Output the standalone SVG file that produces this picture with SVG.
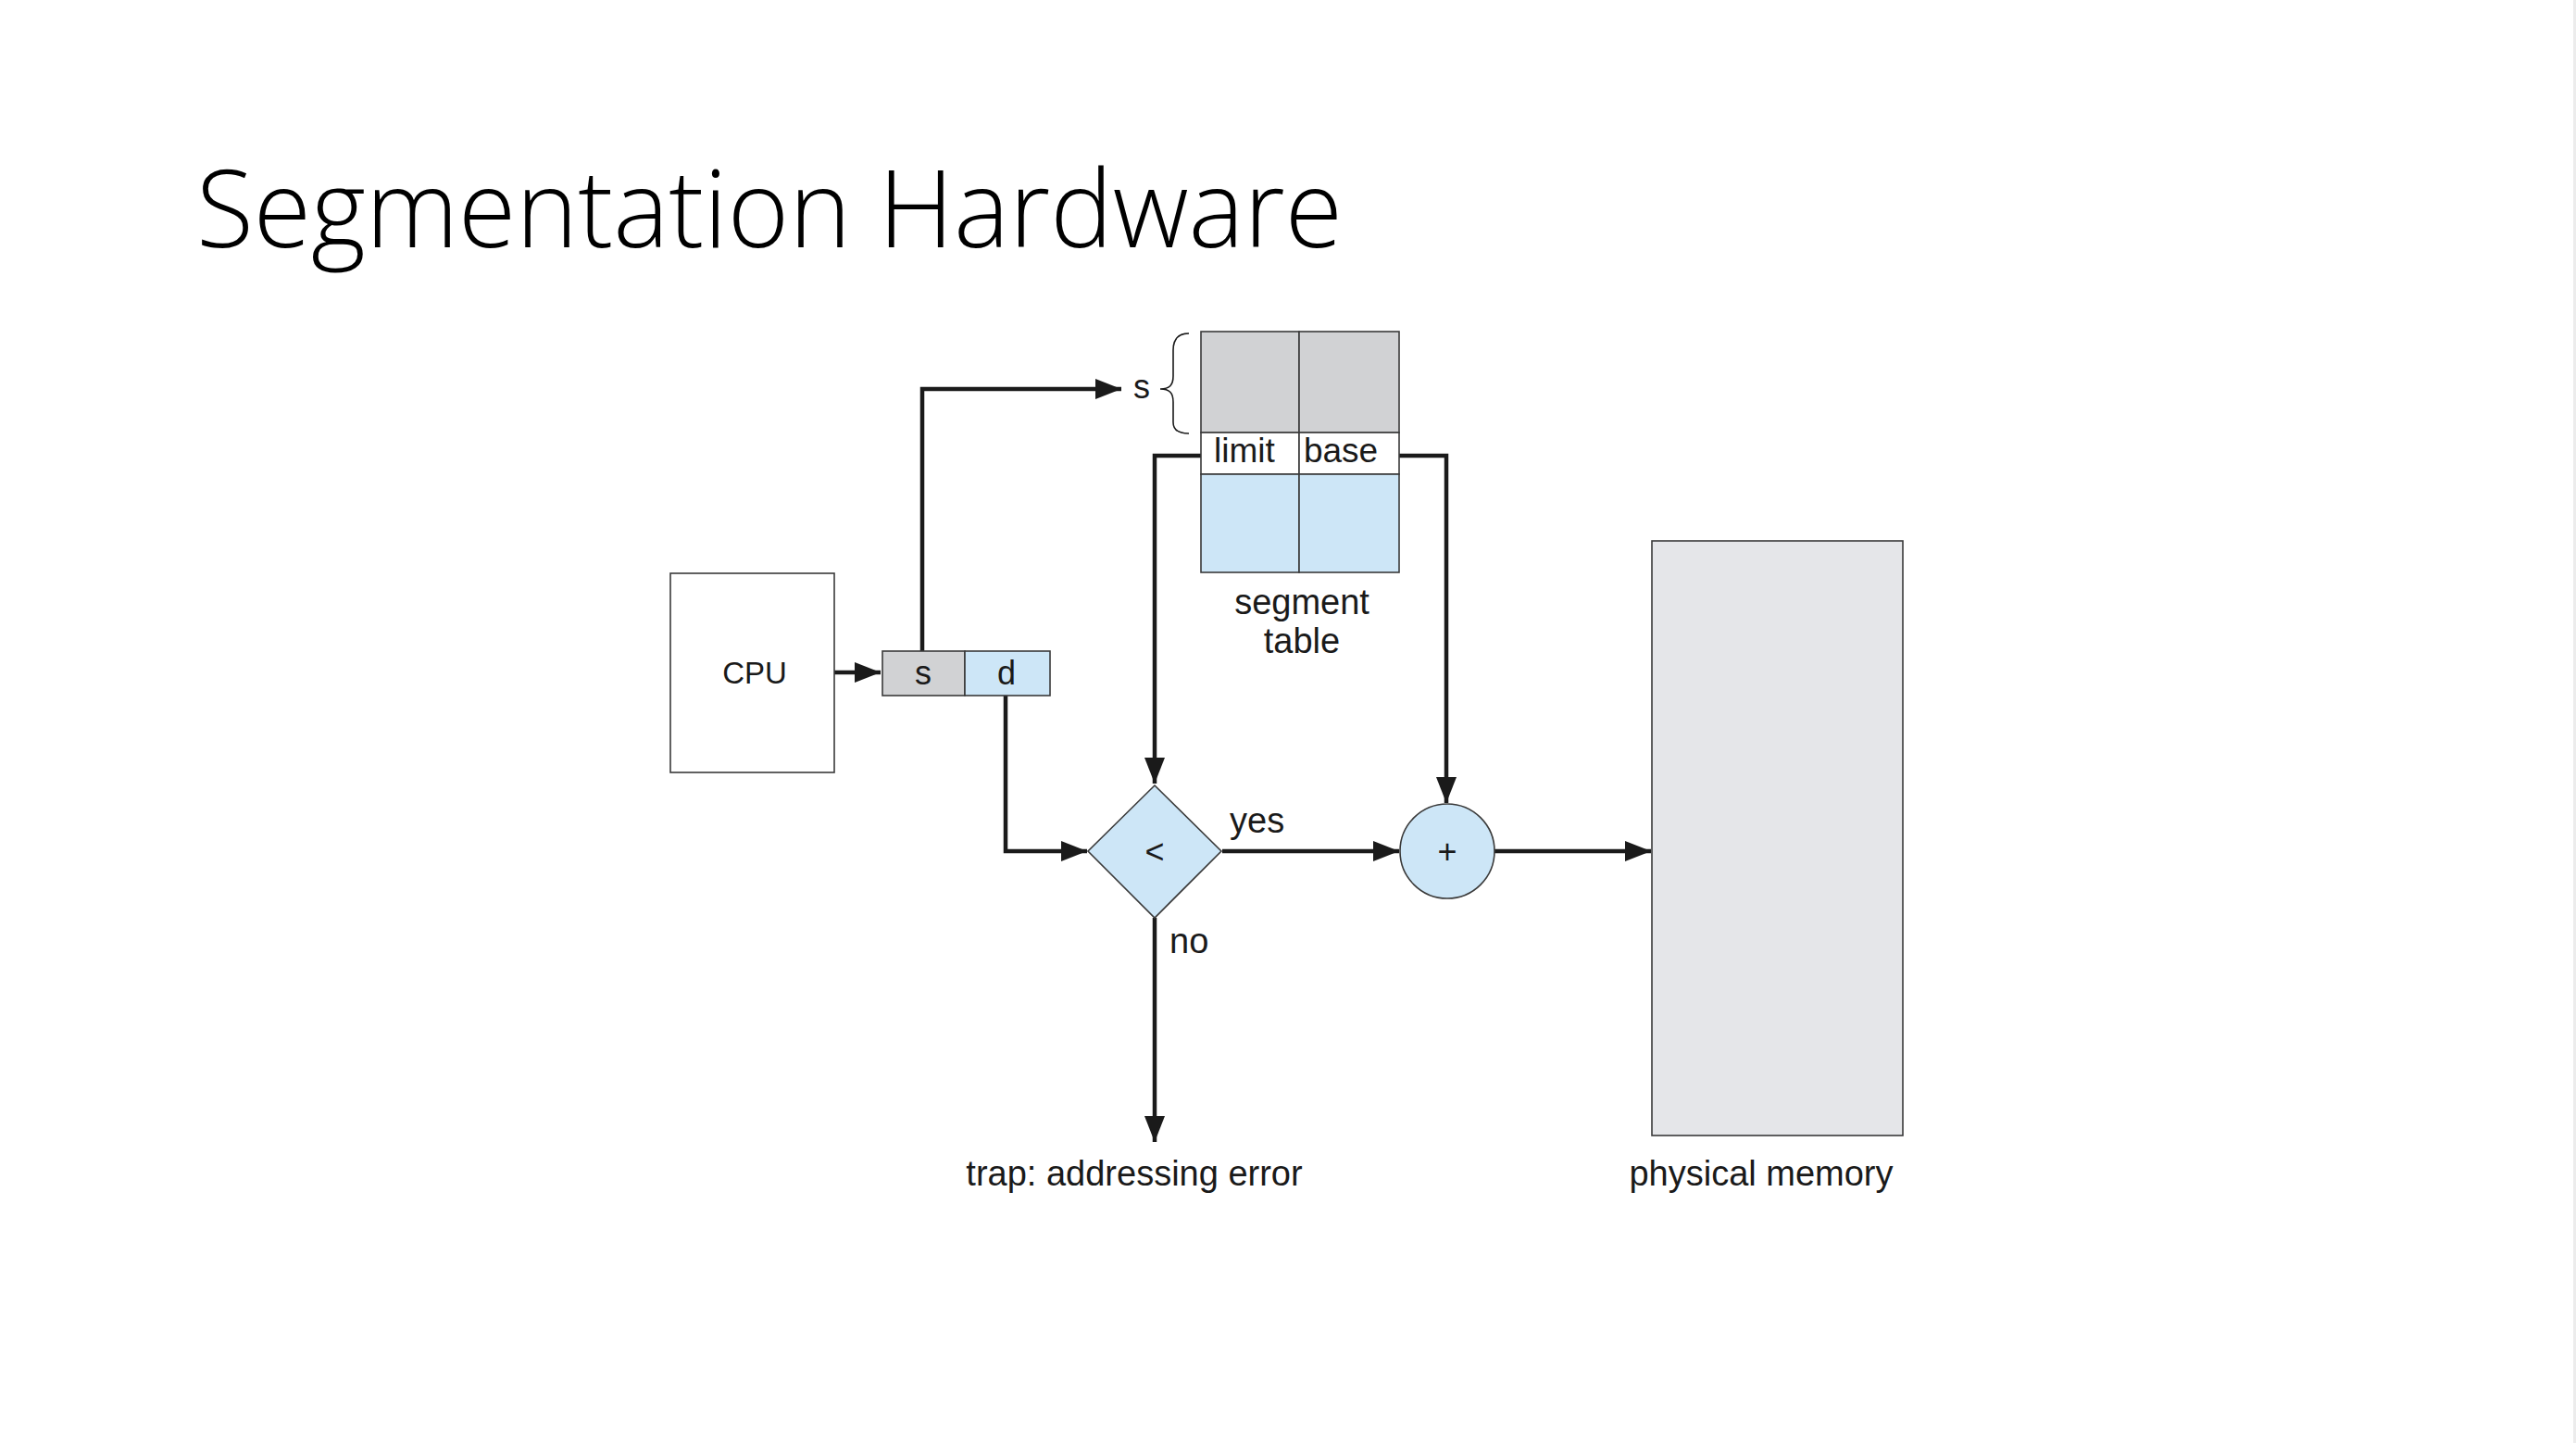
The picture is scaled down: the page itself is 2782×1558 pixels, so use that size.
<svg xmlns="http://www.w3.org/2000/svg" width="2782" height="1558" viewBox="0 0 2782 1558">
<style>
.lbl{font-family:"Liberation Sans",Arial,sans-serif;font-size:38px;fill:#1a1a1a}
.box{stroke:#3a3a3a;stroke-width:1.6}
.conn{fill:none;stroke:#1a1a1a;stroke-width:4.5}
.title{font-family:"Open Sans","Liberation Sans",sans-serif;font-weight:300;font-size:116px;fill:#000}
</style>
<defs>
<marker id="arr" markerUnits="userSpaceOnUse" markerWidth="30" markerHeight="24" refX="28" refY="11" orient="auto">
<path d="M0,0 L28,11 L0,22 z" fill="#1a1a1a"/>
</marker>
</defs>
<rect x="0" y="0" width="2782" height="1558" fill="#ffffff"/>
<rect x="2779" y="0" width="3" height="1558" fill="#ececec"/>
<text class="title" x="212" y="267" textLength="1238" lengthAdjust="spacingAndGlyphs">Segmentation Hardware</text>

<g id="connectors">
<path class="conn" d="M901,726 L951,726" marker-end="url(#arr)"/>
<path class="conn" d="M996,703 L996,420 L1211,420" marker-end="url(#arr)"/>
<path class="conn" d="M1297,492 L1247,492 L1247,846" marker-end="url(#arr)"/>
<path class="conn" d="M1511,492 L1562,492 L1562,867" marker-end="url(#arr)"/>
<path class="conn" d="M1086,751 L1086,919 L1174,919" marker-end="url(#arr)"/>
<path class="conn" d="M1320,919 L1511,919" marker-end="url(#arr)"/>
<path class="conn" d="M1614,919 L1783,919" marker-end="url(#arr)"/>
<path class="conn" d="M1247,991 L1247,1233" marker-end="url(#arr)"/>
</g>

<g id="cpu">
<rect class="box" x="724" y="619" width="177" height="215" fill="#ffffff"/>
<text class="lbl" x="815" y="738" text-anchor="middle" style="font-size:33px">CPU</text>
</g>

<g id="address">
<rect class="box" x="953" y="703" width="89" height="48" fill="#d1d2d4"/>
<rect class="box" x="1042" y="703" width="92" height="48" fill="#cde6f7"/>
<text class="lbl" x="997" y="739" text-anchor="middle" style="font-size:36px">s</text>
<text class="lbl" x="1087" y="739" text-anchor="middle" style="font-size:36px">d</text>
</g>

<g id="segment-table">
<rect class="box" x="1297" y="358" width="106" height="109" fill="#d1d2d4"/>
<rect class="box" x="1403" y="358" width="108" height="109" fill="#d1d2d4"/>
<rect class="box" x="1297" y="467" width="106" height="45" fill="#ffffff"/>
<rect class="box" x="1403" y="467" width="108" height="45" fill="#ffffff"/>
<rect class="box" x="1297" y="512" width="106" height="106" fill="#cde6f7"/>
<rect class="box" x="1403" y="512" width="108" height="106" fill="#cde6f7"/>
<text class="lbl" x="1344" y="499" text-anchor="middle" style="font-size:37px">limit</text>
<text class="lbl" x="1448" y="499" text-anchor="middle" style="font-size:37px">base</text>
<text class="lbl" x="1406" y="663" text-anchor="middle">segment</text>
<text class="lbl" x="1406" y="705" text-anchor="middle">table</text>
</g>

<g id="s-label">
<text class="lbl" x="1233" y="430" text-anchor="middle" style="font-size:36px">s</text>
<path d="M1284,360 C1272,360 1267,366 1267,378 L1267,406 C1267,416 1263,420 1253,420 C1263,420 1267,424 1267,434 L1267,456 C1267,464 1272,468 1284,468" fill="none" stroke="#1a1a1a" stroke-width="1.6"/>
</g>

<g id="compare">
<path class="box" d="M1247,848 L1319,919 L1247,991 L1175,919 Z" fill="#cde6f7"/>
<text class="lbl" x="1247" y="932" text-anchor="middle" style="font-size:36px">&lt;</text>
</g>

<g id="adder">
<circle class="box" cx="1563" cy="919" r="51" fill="#cde6f7"/>
<text class="lbl" x="1563" y="932" text-anchor="middle" style="font-size:36px">+</text>
</g>

<g id="memory">
<rect class="box" x="1784" y="584" width="271" height="642" fill="#e5e6e9"/>
<text class="lbl" x="1902" y="1280" text-anchor="middle">physical memory</text>
</g>

<g id="trap">
<text class="lbl" x="1225" y="1280" text-anchor="middle">trap: addressing error</text>
</g>

<g id="edge-labels">
<text class="lbl" x="1328" y="899">yes</text>
<text class="lbl" x="1263" y="1029">no</text>
</g>
</svg>
